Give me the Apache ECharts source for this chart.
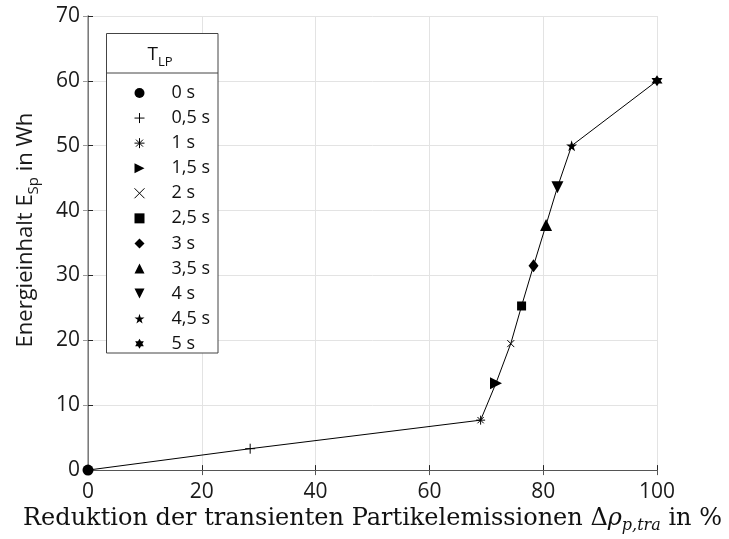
<!DOCTYPE html>
<html><head><meta charset="utf-8">
<script src="https://cdn.jsdelivr.net/npm/echarts@6/dist/echarts.min.js"></script>
<style>html,body{margin:0;padding:0;background:#fff}#c{width:729px;height:539px}</style>
</head><body><div id="c"></div>
<script>
// ---- data ----
const durations = ['0 s', '0,5 s', '1 s', '1,5 s', '2 s', '2,5 s', '3 s', '3,5 s', '4 s', '4,5 s', '5 s'];
const reduction = [0, 28.5, 69, 71.7, 74.3, 76.2, 78.3, 80.5, 82.5, 85, 100];
const energy = [0, 3.3, 7.7, 13.4, 19.5, 25.3, 31.5, 37.8, 43.6, 50, 60];
const xTicks = [0, 20, 40, 60, 80, 100];
const yTicks = [0, 10, 20, 30, 40, 50, 60, 70];

// ---- marker styles ----
const STAR = 'path://M5,0L6.123,3.455L9.755,3.455L6.816,5.59L7.939,9.045L5,6.91L2.061,9.045L3.184,5.59L0.245,3.455L3.877,3.455Z';
const HEXA = 'path://M5,0L9.33,7.5L0.67,7.5Z M5,10L0.67,2.5L9.33,2.5Z';
const markers = [
  { symbol: 'circle', size: 11, stroke: false },
  { symbol: 'path://M5,0L5,10M0,5L10,5', size: 10, stroke: true },
  { symbol: 'path://M5,0L5,10M0,5L10,5M1.5,1.5L8.5,8.5M8.5,1.5L1.5,8.5', size: 9, stroke: true },
  { symbol: 'path://M0,0L10,5L0,10Z', size: 12, stroke: false },
  { symbol: 'path://M0,0L10,10M10,0L0,10', size: 7, stroke: true },
  { symbol: 'rect', size: 9, stroke: false },
  { symbol: 'diamond', size: [10, 13], stroke: false },
  { symbol: 'triangle', size: 12, stroke: false },
  { symbol: 'path://M0,0L10,0L5,10Z', size: 12, stroke: false },
  { symbol: STAR, size: 11, stroke: false },
  { symbol: HEXA, size: 11, stroke: false }
];

const SANS = 'Open Sans';
const SERIF = 'DejaVu Serif';

const chart = echarts.init(document.getElementById('c'), null, { renderer: 'canvas' });

const lineData = reduction.map((x, i) => [x, energy[i]]);
const series = [{
  type: 'line', name: 'verlauf', data: lineData, symbol: 'none', silent: true,
  lineStyle: { color: '#000', width: 1 }, z: 2, animation: false
}];
durations.forEach((d, i) => {
  const m = markers[i];
  series.push({
    type: 'scatter', name: d, data: [[reduction[i], energy[i]]],
    symbol: m.symbol, symbolSize: m.size, z: 5, animation: false,
    itemStyle: m.stroke
      ? { color: 'rgba(0,0,0,0)', borderColor: '#000', borderWidth: 1, opacity: 1 }
      : { color: '#000', borderWidth: 0, opacity: 1 }
  });
});

const commonAxis = {
  axisLine: { show: true, lineStyle: { color: '#262626', width: 1 } },
  axisTick: { show: true, inside: true, length: 5, lineStyle: { color: '#262626' } },
};

chart.setOption({
  backgroundColor: '#fff',
  animation: false,
  grid: { left: 88, right: 72, top: 16, bottom: 68, containLabel: false },
  xAxis: [{
    type: 'value', min: xTicks[0], max: xTicks[xTicks.length - 1], interval: xTicks[1] - xTicks[0],
    ...commonAxis,
    splitLine: { show: true, lineStyle: { color: '#e3e3e3', width: 1 } },
    axisLabel: { fontFamily: SANS, fontSize: 21, color: '#1a1a1a', margin: 11 },
    name: '{a|Reduktion der transienten Partikelemissionen Δ}{i|ρ}{s|p,tra}{a| in %}',
    nameLocation: 'middle', nameGap: 30,
    nameTextStyle: {
      rich: {
        a: { fontFamily: SERIF, fontSize: 24, color: '#111', lineHeight: 30, verticalAlign: 'middle' },
        i: { fontFamily: SERIF, fontSize: 24, fontStyle: 'italic', color: '#111', lineHeight: 30, verticalAlign: 'middle' },
        s: { fontFamily: SERIF, fontSize: 16, fontStyle: 'italic', color: '#111', lineHeight: 16, verticalAlign: 'bottom' }
      }
    }
  }, {
    type: 'value', position: 'top', min: xTicks[0], max: xTicks[xTicks.length - 1], interval: xTicks[1] - xTicks[0],
    axisLine: { show: true, lineStyle: { color: '#555', width: 1 } },
    axisTick: { show: true, inside: true, length: 5, lineStyle: { color: '#555' } },
    axisLabel: { show: false }, splitLine: { show: false }
  }],
  yAxis: [{
    type: 'value', min: yTicks[0], max: yTicks[yTicks.length - 1], interval: yTicks[1] - yTicks[0],
    ...commonAxis,
    splitLine: { show: true, lineStyle: { color: '#e3e3e3', width: 1 } },
    axisLabel: { fontFamily: SANS, fontSize: 21, color: '#1a1a1a', margin: 8 },
    name: '{a|Energieinhalt E}{s|Sp}{a| in Wh}',
    nameLocation: 'middle', nameGap: 47, nameRotate: 90,
    nameTextStyle: {
      padding: [0, 0, 0, 26],
      rich: {
        a: { fontFamily: SANS, fontSize: 22, color: '#1a1a1a', lineHeight: 30, verticalAlign: 'middle' },
        s: { fontFamily: SANS, fontSize: 15, color: '#1a1a1a', lineHeight: 14, verticalAlign: 'bottom' }
      }
    }
  }, {
    type: 'value', position: 'right', min: yTicks[0], max: yTicks[yTicks.length - 1], interval: yTicks[1] - yTicks[0],
    axisLine: { show: true, lineStyle: { color: '#999', width: 1.5 } },
    axisTick: { show: true, inside: true, length: 5, lineStyle: { color: '#999' } },
    axisLabel: { show: false }, splitLine: { show: false }
  }],
  legend: {
    show: true, orient: 'vertical', left: 134, top: 84, padding: 0,
    itemWidth: 10, itemHeight: 10, itemGap: 7.07, selectedMode: false,
    data: durations.map((d, i) => ({
      name: d,
      itemStyle: markers[i].stroke ? { borderWidth: 1, borderColor: '#000', color: 'rgba(0,0,0,0)' } : { borderWidth: 0, color: '#000' }
    })),
    textStyle: { fontFamily: SANS, fontSize: 18, color: '#111', padding: [0, 0, 0, 22] }
  },
  graphic: [
    { type: 'rect', z: 3, shape: { x: 106.5, y: 33.5, width: 111.5, height: 319.5 },
      style: { fill: '#fff', stroke: '#444', lineWidth: 1 } },
    { type: 'line', z: 3, shape: { x1: 106.5, y1: 73, x2: 218, y2: 73 },
      style: { stroke: '#444', lineWidth: 1 } },
    { type: 'text', z: 4, x: 160, y: 55,
      style: { text: '{m|T}{s|LP}', align: 'center', verticalAlign: 'middle',
        rich: {
          m: { fontFamily: SANS, fontSize: 19, fill: '#111', lineHeight: 28, verticalAlign: 'middle' },
          s: { fontFamily: SANS, fontSize: 13, fill: '#111', lineHeight: 13, verticalAlign: 'bottom' }
        } } }
  ],
  series: series
});
</script>
</body></html>
